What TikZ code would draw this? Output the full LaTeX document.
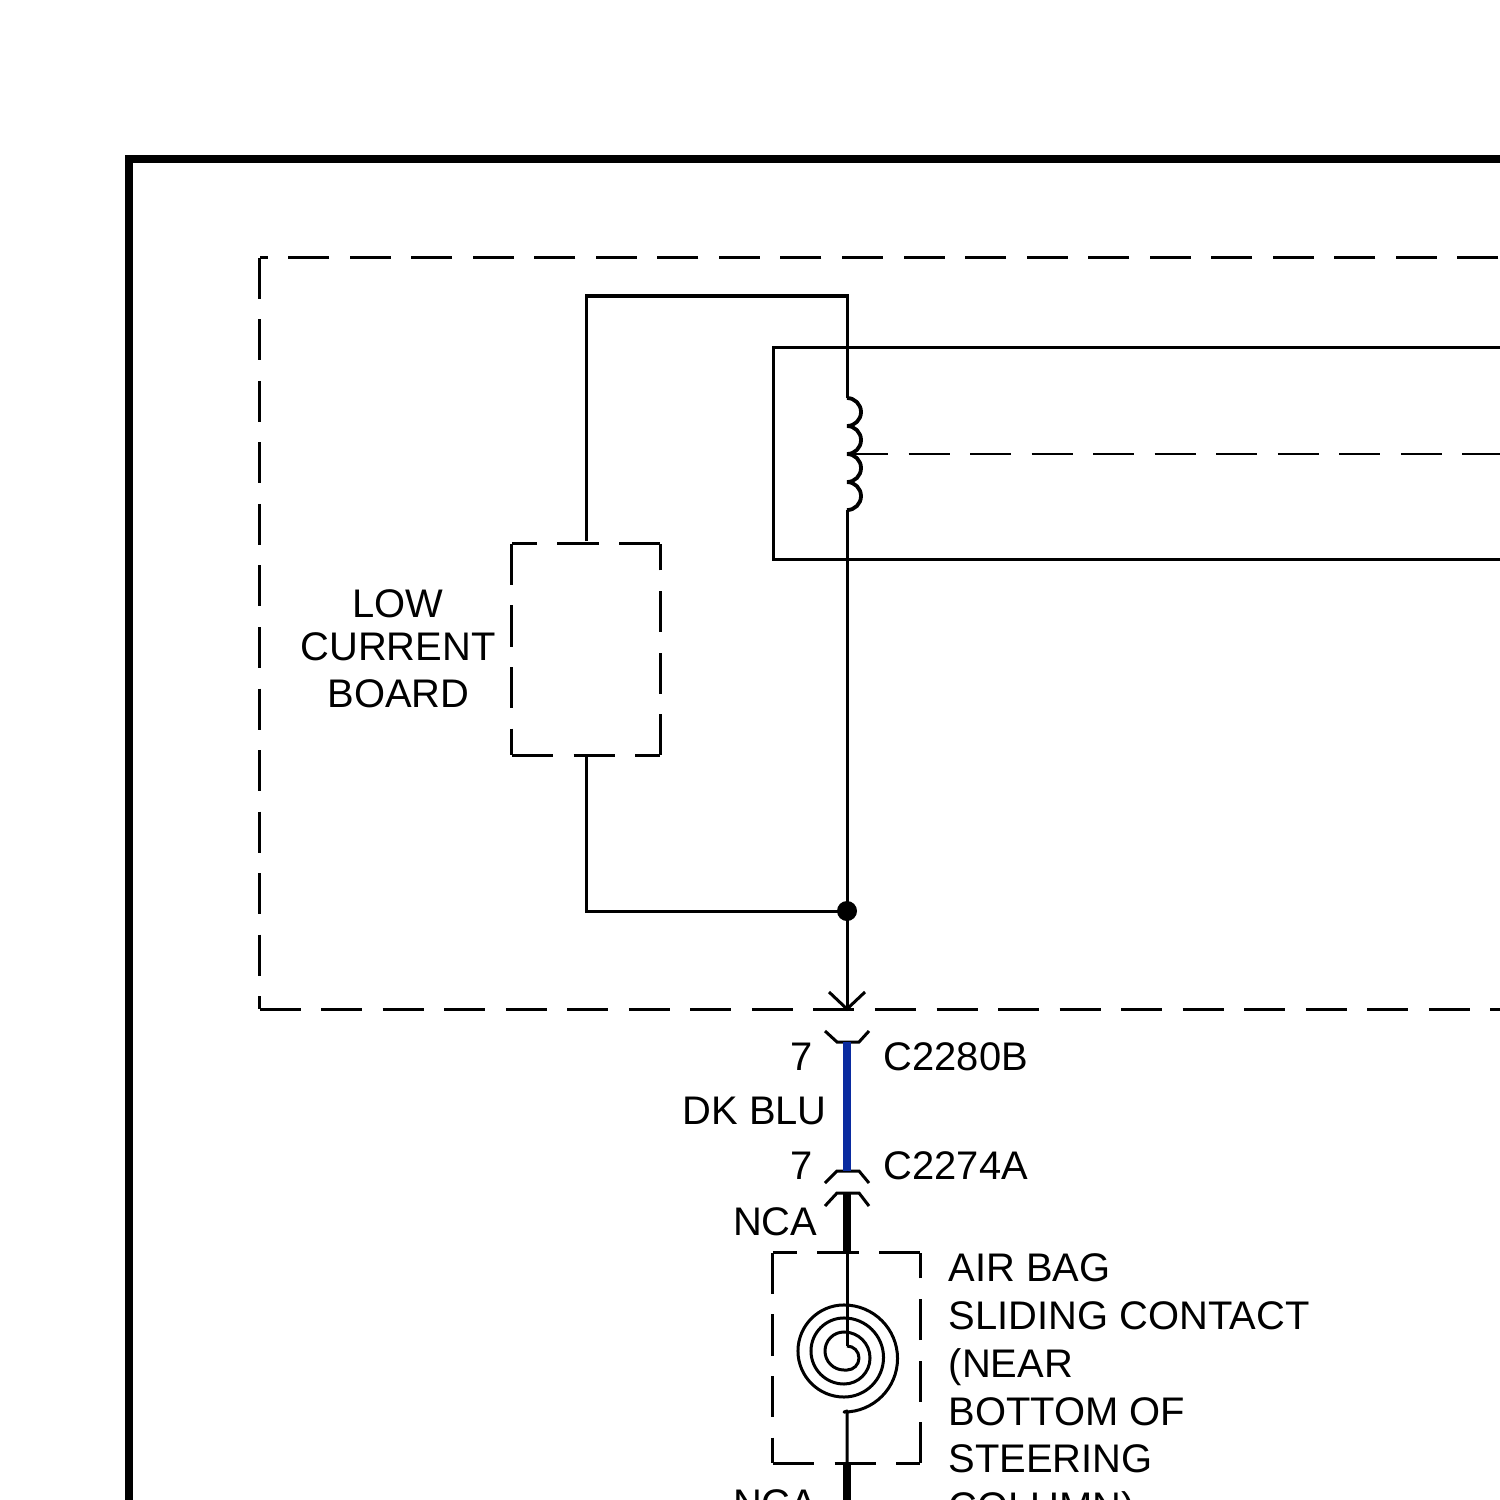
\documentclass[tikz,border=0pt]{standalone}
\usepackage{fontspec}
\setmainfont{Liberation Sans}
\usetikzlibrary{positioning}
\newcommand{\dashedsides}[1]{%
    \draw[dashline] (#1.north west) -- (#1.south west);
    \draw[dashline] (#1.south west) -- (#1.south east);
    \draw[dashline] (#1.south east) -- (#1.north east);
    \draw[dashline] (#1.north east) -- (#1.north west);
}

\begin{document}
\begin{tikzpicture}[x=0.01cm, y=-0.01cm, line join=miter,
    wire/.style={line width=0.03cm},
    heavywire/.style={line width=0.08cm},
    dashline/.style={line width=0.03cm, dash pattern=on 0.41cm off 0.205cm},
    label/.style={inner sep=0, font=\fontsize{11.35}{13.6}\selectfont, anchor=base},
    box/.style={inner sep=0, outer sep=0, minimum width=#1}]
    \useasboundingbox (0,0) rectangle (1500,1500);
    \clip (0,0) rectangle (1500,1500);
    \fill[white] (0,0) rectangle (1500,1500);

    \node[box=1.48cm, minimum height=2.11cm] (lowbox) at (586,649.5) {};
    \node[box=1.47cm, minimum height=2.1cm] (slidebox) at (846.5,1358) {};
    \node[box=12.995cm, minimum height=7.51cm] (modulebox) at (909.75,633.5) {};
    \node[box=8.4cm, minimum height=2.11cm] (relaybox) at (1194,453.5) {};

    \coordinate (topleft) at (586,296);
    \coordinate (topright) at (847,296);
    \coordinate (coiltop) at (847,398);
    \coordinate (coilmid) at (847,454);
    \coordinate (coilend) at (847,510);
    \coordinate (botleft) at (586,911);
    \coordinate (splice) at (847,911);
    \coordinate (pinA) at (847,1009);
    \coordinate (pinB) at (847,1042);
    \coordinate (pinC) at (847,1171);
    \coordinate (pinD) at (847,1193);
    \coordinate (slidetop) at (847,1253);
    \coordinate (spiralin) at (847,1346);
    \coordinate (spiralshift) at (844,1370);
    \coordinate (spiralout) at (847,1411);
    \coordinate (slidebot) at (847,1463);
    \coordinate (pageend) at (847,1520);
    \coordinate (frameright) at (1520,159);

    \draw[line width=0.08cm] (frameright) -- (129,159) -- (129,1520);
    \dashedsides{modulebox}
    \dashedsides{lowbox}
    \dashedsides{slidebox}
    \draw[wire] (relaybox.north east) -- (relaybox.north west) -- (relaybox.south west) -- (relaybox.south east);

    \draw[wire] (586,541) -- (topleft) -- (topright) -- (coiltop);
    \draw[line width=0.038cm, line join=bevel] (coiltop) arc (90:-90:0.14cm) arc (90:-90:0.14cm) arc (90:-90:0.14cm) arc (90:-90:0.14cm);
    \draw[wire] (coilend) -- (pinA);
    \draw[wire] (lowbox.south) -- (botleft) -- (splice);
    \fill (splice) circle (0.1cm);
    \draw[line width=0.015cm, dash pattern=on 0.41cm off 0.205cm] (coilmid) -- (1520,454);

    \draw[wire] (829,992) -- (pinA) -- (865,992);
    \draw[wire] (825,1031) -- (837,1042) -- (859,1042) -- (869,1031);
    \draw[wire] (825,1183) -- (837,1171) -- (859,1171) -- (869,1183);
    \draw[wire] (825,1206) -- (837,1193) -- (859,1193) -- (869,1206);

    \draw[heavywire, draw={rgb,255:red,10;green,43;blue,160}] (pinB) -- (pinC);
    \draw[heavywire] (pinD) -- (slidetop);
    \draw[heavywire] (slidebot) -- (pageend);
    \draw[wire] (slidetop) -- (spiralin);
    \draw[wire, line join=round] (spiralin) arc (90:-90:0.12cm) -- (spiralshift) arc (270:90:0.19cm) arc (90:-90:0.26cm) arc (270:90:0.33cm)
        arc (90:-90:0.395cm) arc (270:90:0.46cm) arc (90:-90:0.535cm) -- (spiralout) -- (slidebot);

    \node[label] (lowtext) at (397.5,617) {LOW};
    \node[label] (currenttext) at (398,660) {CURRENT};
    \node[label] (boardtext) at (398.5,707) {BOARD};
    \node[label] (pinseven) at (802,1070) {7};
    \node[label, anchor=base west] (cnumber) at (883,1070) {C2280B};
    \node[label, anchor=base east] (dkblu) at (827.5,1124) {DK BLU};
    \node[label] (pinsevenb) at (802,1179) {7};
    \node[label, anchor=base west] (cnumberb) at (883,1179) {C2274A};
    \node[label, anchor=base east] (ncatop) at (818,1235) {NCA};
    \node[label, anchor=base east] (ncabot) at (818,1517) {NCA};
    \node[label, anchor=north west, align=left] (slidetext) at (948,1253) {AIR BAG\\SLIDING CONTACT\\(NEAR\\BOTTOM OF\\STEERING\\COLUMN)};
\end{tikzpicture}
\end{document}
